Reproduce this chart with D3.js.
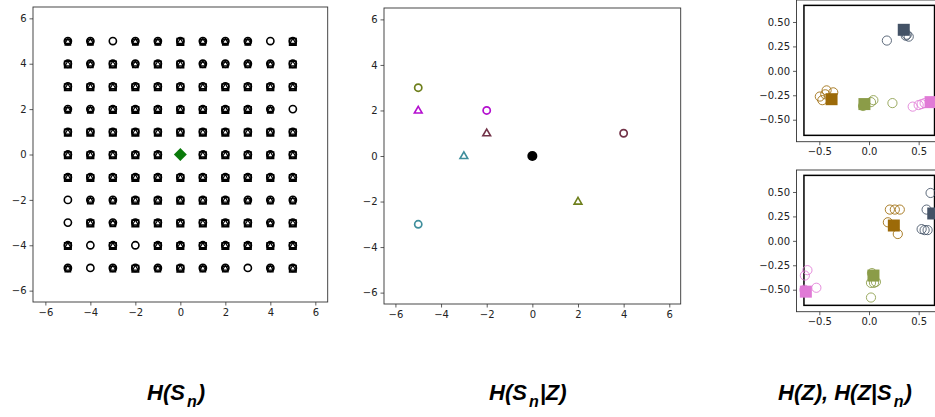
<!DOCTYPE html>
<html><head><meta charset="utf-8">
<script src="https://cdn.jsdelivr.net/npm/d3@7"></script>
<style>
html,body{margin:0;padding:0;background:#fff;}
svg{display:block;}
.tick text{font-family:"DejaVu Sans",sans-serif;font-size:10px;fill:#222;}
.lbl{font-family:"Liberation Sans",Arial,sans-serif;font-weight:bold;font-style:italic;font-size:22px;fill:#000;}
</style></head>
<body>
<svg id="c" width="935" height="417"></svg>
<script>
// ---------- DATA ----------
const gridVals = [-5,-4,-3,-2,-1,0,1,2,3,4,5];
const centerPoint = [0,0];
// grid cells drawn only as a circle
const circleOnly = [[-3,5],[4,5],[5,2],[-5,-2],[-5,-3],[-4,-4],[-2,-4],[-4,-5],[3,-5]];
// grid cells drawn as circle + triangle (rounded look)
const circleTri = [[-5,5],[-4,5],[-2,5],[-1,5],[1,5],[2,5],[3,5],[-4,4],[-2,4],[1,4],[2,4],[3,4],[4,4],
  [-5,2],[-4,2],[4,2],[-4,-2],[-3,-2],[3,-2],[4,-2],[5,-2],[-3,-3],[4,-3],[-5,-5],[-3,-5],[-1,-5],[1,-5],[2,-5],[4,-5]];
const axTicks = [-6,-4,-2,0,2,4,6];

const midCircles = [{x:-5,y:3,c:"olive"},{x:-2,y:2,c:"magenta"},{x:4,y:1,c:"maroon"},{x:-5,y:-3,c:"teal"}];
const midTriangles = [{x:-5,y:2,c:"magenta"},{x:-2,y:1,c:"maroon"},{x:-3,y:0,c:"teal"},{x:2,y:-2,c:"olive"}];
const midOrigin = [0,0];

const topSquares = [{x:0.35,y:0.42,c:"slate"},{x:-0.377,y:-0.29,c:"brown"},{x:-0.046,y:-0.34,c:"green"},{x:0.62,y:-0.32,c:"pink"}];
const topCircles = [
  {x:0.18,y:0.31,c:"slate"},{x:0.37,y:0.36,c:"slate"},{x:0.40,y:0.35,c:"slate"},{x:0.38,y:0.37,c:"slate"},
  {x:-0.495,y:-0.263,c:"brown"},{x:-0.427,y:-0.20,c:"brown"},{x:-0.36,y:-0.22,c:"brown"},{x:-0.47,y:-0.30,c:"brown"},{x:-0.44,y:-0.24,c:"brown"},
  {x:0.044,y:-0.30,c:"green"},{x:0.02,y:-0.32,c:"green"},{x:0.236,y:-0.33,c:"green"},{x:-0.06,y:-0.36,c:"green"},
  {x:0.44,y:-0.366,c:"pink"},{x:0.53,y:-0.34,c:"pink"},{x:0.56,y:-0.33,c:"pink"},{x:0.50,y:-0.35,c:"pink"}];
const botSquares = [{x:0.647,y:0.28,c:"slate"},{x:0.25,y:0.157,c:"brown"},{x:0.045,y:-0.355,c:"green"},{x:-0.636,y:-0.52,c:"pink"}];
const botCircles = [
  {x:0.62,y:0.49,c:"slate"},{x:0.58,y:0.32,c:"slate"},{x:0.53,y:0.12,c:"slate"},{x:0.56,y:0.11,c:"slate"},{x:0.59,y:0.11,c:"slate"},
  {x:0.21,y:0.32,c:"brown"},{x:0.26,y:0.32,c:"brown"},{x:0.31,y:0.32,c:"brown"},{x:0.19,y:0.19,c:"brown"},{x:0.29,y:0.07,c:"brown"},
  {x:0.02,y:-0.43,c:"green"},{x:0.05,y:-0.43,c:"green"},{x:0.07,y:-0.42,c:"green"},{x:0.02,y:-0.58,c:"green"},{x:0.03,y:-0.33,c:"green"},
  {x:-0.62,y:-0.30,c:"pink"},{x:-0.646,y:-0.355,c:"pink"},{x:-0.53,y:-0.48,c:"pink"},{x:-0.65,y:-0.50,c:"pink"}];
const smallTicksY = [-0.5,-0.25,0,0.25,0.5];
const smallTicksX = [-0.5,0,0.5];
const innerRect = {x0:-0.655,x1:0.66,y0:-0.66,y1:0.67};

const colors = {olive:"#6e7f1c",magenta:"#b40fcf",maroon:"#723248",teal:"#3f8e9c",
  slate:"#435266",brown:"#9c6a08",green:"#8b9c48",pink:"#e07ad6"};

// ---------- DRAW ----------
const svg = d3.select("#c");
svg.append("rect").attr("width",935).attr("height",417).attr("fill","#fff");

function frame(g,x,y,tx,ty,fx,fy){
  const [x0,x1]=x.range(),[y1,y0]=y.range();
  g.append("g").attr("transform",`translate(0,${y1})`)
    .call(d3.axisBottom(x).tickValues(tx).tickSize(3.5).tickPadding(3).tickFormat(fx))
    .call(a=>a.select(".domain").remove());
  g.append("g").attr("transform",`translate(${x0},0)`)
    .call(d3.axisLeft(y).tickValues(ty).tickSize(3.5).tickPadding(3).tickFormat(fy))
    .call(a=>a.select(".domain").remove());
  g.selectAll(".tick line").attr("stroke","#333").attr("stroke-width",0.8);
  g.append("rect").attr("x",x0).attr("y",y0).attr("width",x1-x0).attr("height",y1-y0)
    .attr("fill","none").attr("stroke","#333").attr("stroke-width",0.9);
}

// Panel 1
const x1 = d3.scaleLinear().domain([-6.55,6.55]).range([33,327.7]);
const y1 = d3.scaleLinear().domain([-6.5,6.5]).range([302,7]);
const g1 = svg.append("g");
frame(g1,x1,y1,axTicks,axTicks,d3.format("d"),d3.format("d"));
const key = p=>p[0]+","+p[1];
const coSet = new Set(circleOnly.map(key)), ctSet = new Set(circleTri.map(key));
const cells = [];
gridVals.forEach(yy=>gridVals.forEach(xx=>{ if(!(xx===centerPoint[0]&&yy===centerPoint[1])) cells.push([xx,yy]); }));
const sq = d3.symbol().type(d3.symbolSquare).size(42)();
const tri = d3.symbol().type(d3.symbolTriangle).size(14)();
cells.forEach(p=>{
  const cx=x1(p[0]), cy=y1(p[1]);
  const g=g1.append("g").attr("transform",`translate(${cx},${cy})`)
    .attr("fill","none").attr("stroke","#000").attr("stroke-width",1.6);
  const k=key(p);
  g.append("circle").attr("r",3.6);
  if(coSet.has(k)) return;
  if(!ctSet.has(k)) g.append("path").attr("d",sq).attr("transform","translate(0,0.8)");
  else g.append("path").attr("d",d3.symbol().type(d3.symbolSquare).size(30)()).attr("transform","translate(0,1.2)").attr("stroke-width",1.3);
  g.append("path").attr("d",tri).attr("transform","translate(0,0.6)").attr("stroke-width",1.2);
});
g1.append("path").attr("d",d3.symbol().type(d3.symbolSquare).size(84)())
  .attr("transform",`translate(${x1(centerPoint[0])},${y1(centerPoint[1])}) rotate(45)`).attr("fill","#0a7a0a");

// Panel 2
const x2 = d3.scaleLinear().domain([-6.5,6.5]).range([384,680.7]);
const y2 = d3.scaleLinear().domain([-6.5,6.5]).range([304,8]);
const g2 = svg.append("g");
frame(g2,x2,y2,axTicks,axTicks,d3.format("d"),d3.format("d"));
g2.selectAll(null).data(midCircles).join("circle")
  .attr("cx",d=>x2(d.x)).attr("cy",d=>y2(d.y)).attr("r",3.6)
  .attr("fill","none").attr("stroke",d=>colors[d.c]).attr("stroke-width",1.7);
g2.selectAll(null).data(midTriangles).join("path")
  .attr("d",d3.symbol().type(d3.symbolTriangle).size(26)())
  .attr("transform",d=>`translate(${x2(d.x)},${y2(d.y)+0.3})`)
  .attr("fill","none").attr("stroke",d=>colors[d.c]).attr("stroke-width",1.6);
g2.append("circle").attr("cx",x2(midOrigin[0])).attr("cy",y2(midOrigin[1])).attr("r",5).attr("fill","#000");

// Right panels
function small(top,squares,circles){
  const x = d3.scaleLinear().domain([-0.73,0.73]).range([796.5,941.5]);
  const y = d3.scaleLinear().domain([-0.725,0.725]).range([top+141.7,top]);
  const g = svg.append("g");
  frame(g,x,y,smallTicksX,smallTicksY,d3.format(".1f"),d3.format(".2f"));
  g.append("rect").attr("x",x(innerRect.x0)).attr("y",y(innerRect.y1))
    .attr("width",x(innerRect.x1)-x(innerRect.x0)).attr("height",y(innerRect.y0)-y(innerRect.y1))
    .attr("fill","none").attr("stroke","#000").attr("stroke-width",1.5);
  g.selectAll(null).data(circles).join("circle")
    .attr("cx",d=>x(d.x)).attr("cy",d=>y(d.y)).attr("r",4.6)
    .attr("fill","none").attr("stroke",d=>colors[d.c]).attr("stroke-width",1).attr("stroke-opacity",0.85);
  g.selectAll(null).data(squares).join("path")
    .attr("d",d3.symbol().type(d3.symbolSquare).size(144)())
    .attr("transform",d=>`translate(${x(d.x)},${y(d.y)})`)
    .attr("fill",d=>colors[d.c]);
}
small(0,topSquares,topCircles);
small(170,botSquares,botCircles);

// Bottom labels
function label(xs,parts){
  const t = svg.append("text").attr("class","lbl").attr("x",xs).attr("y",400);
  parts.forEach(p=>{
    if(p.sub) t.append("tspan").text(p.t).attr("font-size","16px").attr("dy",7).attr("dx",2);
    else t.append("tspan").text(p.t).attr("dy",p.up?-7:0).attr("dx",p.up?1:0);
  });
}
label(147,[{t:"H(S"},{t:"n",sub:true},{t:")",up:true}]);
label(489,[{t:"H(S"},{t:"n",sub:true},{t:"|Z)",up:true}]);
label(778,[{t:"H(Z), H(Z|S"},{t:"n",sub:true},{t:")",up:true}]);
</script>
</body></html>
